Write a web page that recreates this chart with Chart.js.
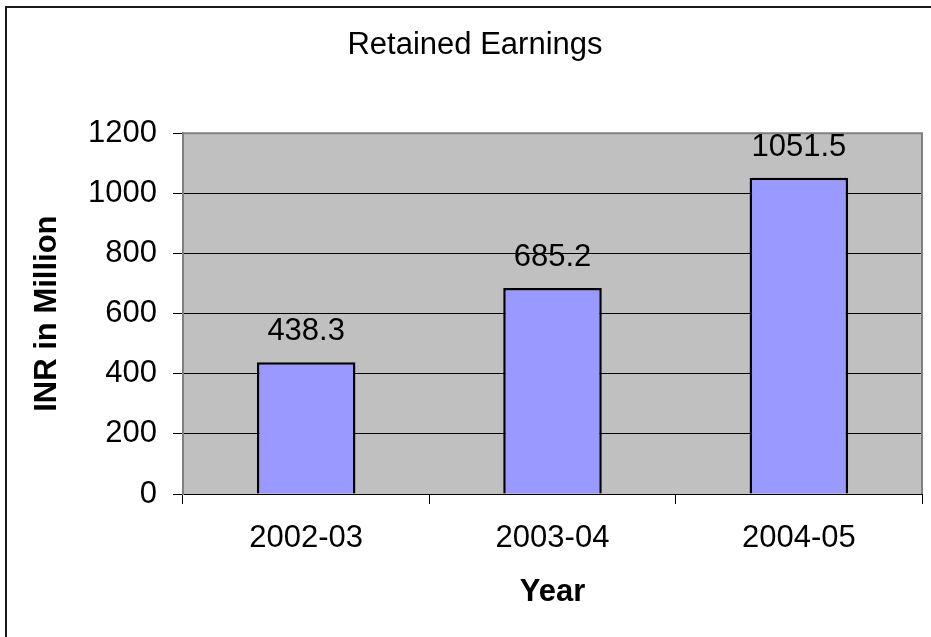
<!DOCTYPE html>
<html>
<head>
<meta charset="utf-8">
<script src="https://cdn.jsdelivr.net/npm/chart.js@4.4.0/dist/chart.umd.min.js"></script>
<style>
  html, body { margin: 0; padding: 0; background: #ffffff; }
  canvas { display: block; }
</style>
</head>
<body>
<canvas id="chart-retained" width="931" height="637"></canvas>
<script>
// Retained Earnings, INR in Million
const years = ['2002-03', '2003-04', '2004-05'];
const retainedEarnings = [438.3, 685.2, 1051.5];
const yAxisMax = 1200;
const yAxisStep = 200;

const FONT = "'Liberation Sans', Arial, sans-serif";
const FONT_SIZE = 31;
const THEME = {
  ink: '#000000',
  plotBg: '#c0c0c0',
  plotBorder: '#808080',
  bar: '#9999ff',
};

// white page, outer frame and grey plot background
const framePlugin = {
  id: 'frame',
  beforeDraw(chart) {
    const { ctx, chartArea: a } = chart;
    ctx.save();
    ctx.fillStyle = '#ffffff';
    ctx.fillRect(0, 0, chart.width, chart.height);
    ctx.strokeStyle = '#1a1a1a';
    ctx.lineWidth = 2;
    ctx.beginPath();
    ctx.moveTo(6, chart.height);
    ctx.lineTo(6, 7);
    ctx.lineTo(chart.width, 7);
    ctx.stroke();
    ctx.fillStyle = THEME.plotBg;
    ctx.fillRect(a.left, a.top, a.right - a.left, a.bottom - a.top);
    ctx.restore();
  },
  beforeDatasetsDraw(chart) {
    const { ctx, chartArea: a } = chart;
    ctx.save();
    ctx.strokeStyle = THEME.plotBorder;
    ctx.lineWidth = 2;
    ctx.beginPath();
    ctx.moveTo(a.left, a.top);
    ctx.lineTo(a.right, a.top);
    ctx.lineTo(a.right, a.bottom);
    ctx.stroke();
    ctx.restore();
  }
};

// value printed above each bar
const valueLabels = {
  id: 'valueLabels',
  afterDatasetsDraw(chart) {
    const { ctx } = chart;
    const meta = chart.getDatasetMeta(0);
    ctx.save();
    ctx.font = `${FONT_SIZE}px ${FONT}`;
    ctx.fillStyle = THEME.ink;
    ctx.textAlign = 'center';
    ctx.textBaseline = 'alphabetic';
    meta.data.forEach((bar, i) => {
      const { x, y } = bar.getProps(['x', 'y'], true);
      ctx.fillText(String(retainedEarnings[i]), x, y - 22);
    });
    ctx.restore();
  }
};

new Chart(document.getElementById('chart-retained'), {
  type: 'bar',
  data: {
    labels: years,
    datasets: [{
      data: retainedEarnings,
      backgroundColor: THEME.bar,
      borderColor: THEME.ink,
      borderWidth: 2.5,
      categoryPercentage: 1,
      barPercentage: 0.4,
    }]
  },
  options: {
    responsive: false,
    animation: false,
    layout: { padding: { top: 0, left: 28, right: 9, bottom: 0 } },
    plugins: {
      legend: { display: false },
      tooltip: { enabled: false },
      title: {
        display: true,
        text: 'Retained Earnings',
        color: THEME.ink,
        font: { family: FONT, size: FONT_SIZE, weight: 'normal' },
        padding: { top: 27, bottom: 69 },
      }
    },
    scales: {
      x: {
        afterFit: (scale) => { scale.height = 143; },
        border: { display: true, color: THEME.ink, width: 1 },
        grid: { display: true, drawOnChartArea: false, drawTicks: true, tickLength: 10, color: THEME.ink, offset: true },
        ticks: { color: THEME.ink, padding: 16, font: { family: FONT, size: FONT_SIZE } },
        title: {
          display: true,
          text: 'Year',
          color: THEME.ink,
          font: { family: FONT, size: FONT_SIZE, weight: 'bold' },
          padding: { top: 0, bottom: 26 },
        }
      },
      y: {
        min: 0,
        max: yAxisMax,
        afterFit: (scale) => { scale.width = 155; },
        border: { display: true, color: THEME.plotBorder, width: 2 },
        grid: {
          color: (c) => (c.tick && c.tick.value === yAxisMax ? 'rgba(0,0,0,0)' : THEME.ink),
          tickColor: THEME.ink,
          tickLength: 10,
          lineWidth: 1,
        },
        ticks: {
          stepSize: yAxisStep,
          color: THEME.ink,
          padding: 16,
          font: { family: FONT, size: FONT_SIZE },
          callback: (v) => String(v),
        },
        title: {
          display: true,
          text: 'INR in Million',
          color: THEME.ink,
          font: { family: FONT, size: FONT_SIZE, weight: 'bold' },
          padding: { top: 1, bottom: 0 },
        }
      }
    }
  },
  plugins: [framePlugin, valueLabels]
});
</script>
</body>
</html>
